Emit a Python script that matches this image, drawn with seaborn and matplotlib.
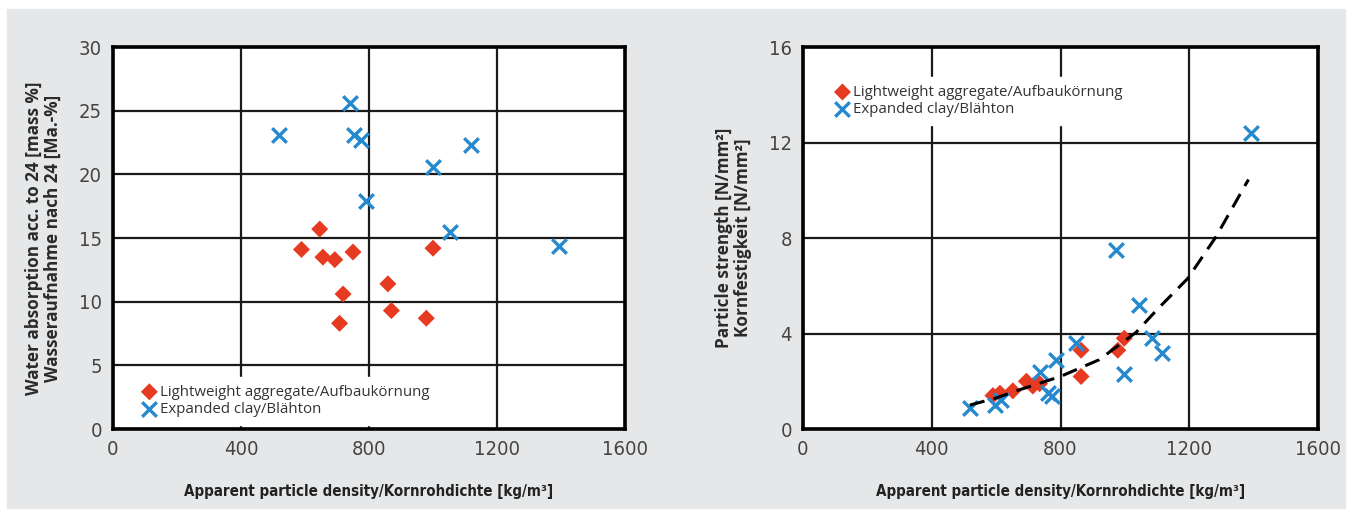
import numpy as np
import pandas as pd
import matplotlib.pyplot as plt
import seaborn as sns
from matplotlib.patches import Rectangle

# left chart: water absorption vs density
lw_dens_left = [589, 646, 656, 693, 750, 719, 708, 859, 870, 979, 1000]
lw_water = [14.1, 15.7, 13.5, 13.3, 13.9, 10.6, 8.3, 11.4, 9.3, 8.7, 14.2]
ec_dens_left = [518, 740, 752, 774, 790, 999, 1120, 1052, 1395]
ec_water = [23.1, 25.6, 23.1, 22.7, 17.9, 20.6, 22.3, 15.5, 14.4]

# right chart: particle strength vs density
lw_dens_right = [590, 612, 652, 694, 714, 735, 864, 864, 978, 998]
lw_strength = [1.4, 1.5, 1.6, 2.0, 1.8, 1.9, 3.3, 2.2, 3.3, 3.8]
ec_dens_right = [520, 595, 615, 735, 760, 773, 787, 849, 998, 1045, 1085, 1115, 973, 1391]
ec_strength = [0.9, 1.0, 1.2, 2.4, 1.5, 1.4, 2.9, 3.6, 2.3, 5.2, 3.8, 3.2, 7.5, 12.4]

# dashed trend line
trend_dens = [518, 600, 663, 800, 920, 1035, 1100, 1195, 1283, 1384]
trend_strength = [1.0, 1.3, 1.6, 2.2, 2.9, 4.05, 5.0, 6.3, 8.05, 10.45]

lbl_lw = "Lightweight aggregate/Aufbaukörnung"
lbl_ec = "Expanded clay/Blähton"
xlabel = "Apparent particle density/Kornrohdichte [kg/m³]"
ylabel_left = "Water absorption acc. to 24 [mass %]\nWasseraufnahme nach 24 [Ma.-%]"
ylabel_right = "Particle strength [N/mm²]\nKornfestigkeit [N/mm²]"

red = "#e63b21"
blue = "#2589cf"

sns.set_style("white")
plt.rcParams['font.family'] = ['Open Sans', 'DejaVu Sans']

fig = plt.figure(figsize=(13.47, 5.11), dpi=100, facecolor="white")
fig.patches.append(Rectangle((7 / 1347, 3 / 511), 1338 / 1347, 499 / 511,
                             transform=fig.transFigure, color="#e6e7e8", zorder=-10))

axL = fig.add_axes([113 / 1347, 1 - 429 / 511, 512 / 1347, 382 / 511])
axR = fig.add_axes([803 / 1347, 1 - 429 / 511, 515 / 1347, 382 / 511])


def style_axis(ax, yticks, ylabel):
    ax.set_facecolor("white")
    ax.set_xlim(0, 1600)
    ax.set_xticks([0, 400, 800, 1200, 1600])
    ax.set_ylim(yticks[0], yticks[-1])
    ax.set_yticks(yticks)
    ax.grid(True, color="#1a1a1a", linewidth=1.6, zorder=0)
    ax.set_axisbelow(True)
    for s in ax.spines.values():
        s.set_visible(True)
        s.set_color("black")
        s.set_linewidth(2.6)
    ax.tick_params(length=0, pad=8)
    for t in ax.get_xticklabels() + ax.get_yticklabels():
        t.set_fontfamily('DejaVu Sans')
        t.set_fontstretch('condensed')
        t.set_fontsize(14.5)
        t.set_color("#444444")
    ax.set_xlabel(xlabel, fontsize=10.8, fontweight="bold", color="#222222",
                  family='DejaVu Sans', fontstretch='condensed')
    ax.xaxis.set_label_coords(0.5, -0.145)
    ax.set_ylabel(ylabel, fontsize=12.3, fontweight="bold", color="#2a2a2a",
                  linespacing=1.05)
    ax.yaxis.set_label_coords(-0.10, 0.5)


# left
sns.scatterplot(x=lw_dens_left, y=lw_water, ax=axL, marker="D", s=75, color=red,
                edgecolor="none", label=lbl_lw, zorder=3)
sns.scatterplot(x=ec_dens_left, y=ec_water, ax=axL, marker="x", s=110, color=blue,
                linewidth=2.4, label=lbl_ec, zorder=3)
style_axis(axL, [0, 5, 10, 15, 20, 25, 30], ylabel_left)
legL = axL.legend(loc="lower left", bbox_to_anchor=(0.03, 0.0), frameon=True,
                  fontsize=10.8, handletextpad=0.1, handlelength=1.2,
                  borderpad=0.5, labelspacing=0.15, borderaxespad=0.3)

# right
sns.scatterplot(x=lw_dens_right, y=lw_strength, ax=axR, marker="D", s=75, color=red,
                edgecolor="none", label=lbl_lw, zorder=3)
sns.scatterplot(x=ec_dens_right, y=ec_strength, ax=axR, marker="x", s=110, color=blue,
                linewidth=2.4, label=lbl_ec, zorder=3)
sns.lineplot(x=trend_dens, y=trend_strength, ax=axR, color="black", linewidth=2.2,
             linestyle=(0, (5, 3)), sort=False, zorder=4, label="_trend")
style_axis(axR, [0, 4, 8, 12, 16], ylabel_right)
legR = axR.legend(loc="upper left", bbox_to_anchor=(0.03, 0.94), frameon=True,
                  fontsize=10.8, handletextpad=0.1, handlelength=1.2,
                  borderpad=0.5, labelspacing=0.15)

for leg in (legL, legR):
    fr = leg.get_frame()
    fr.set_facecolor("white")
    fr.set_edgecolor("white")
    fr.set_alpha(1)
    fr.set_boxstyle("square", pad=0)
    for t in leg.get_texts():
        t.set_color("#333333")

fig.savefig("out.png", dpi=100, facecolor="white")
